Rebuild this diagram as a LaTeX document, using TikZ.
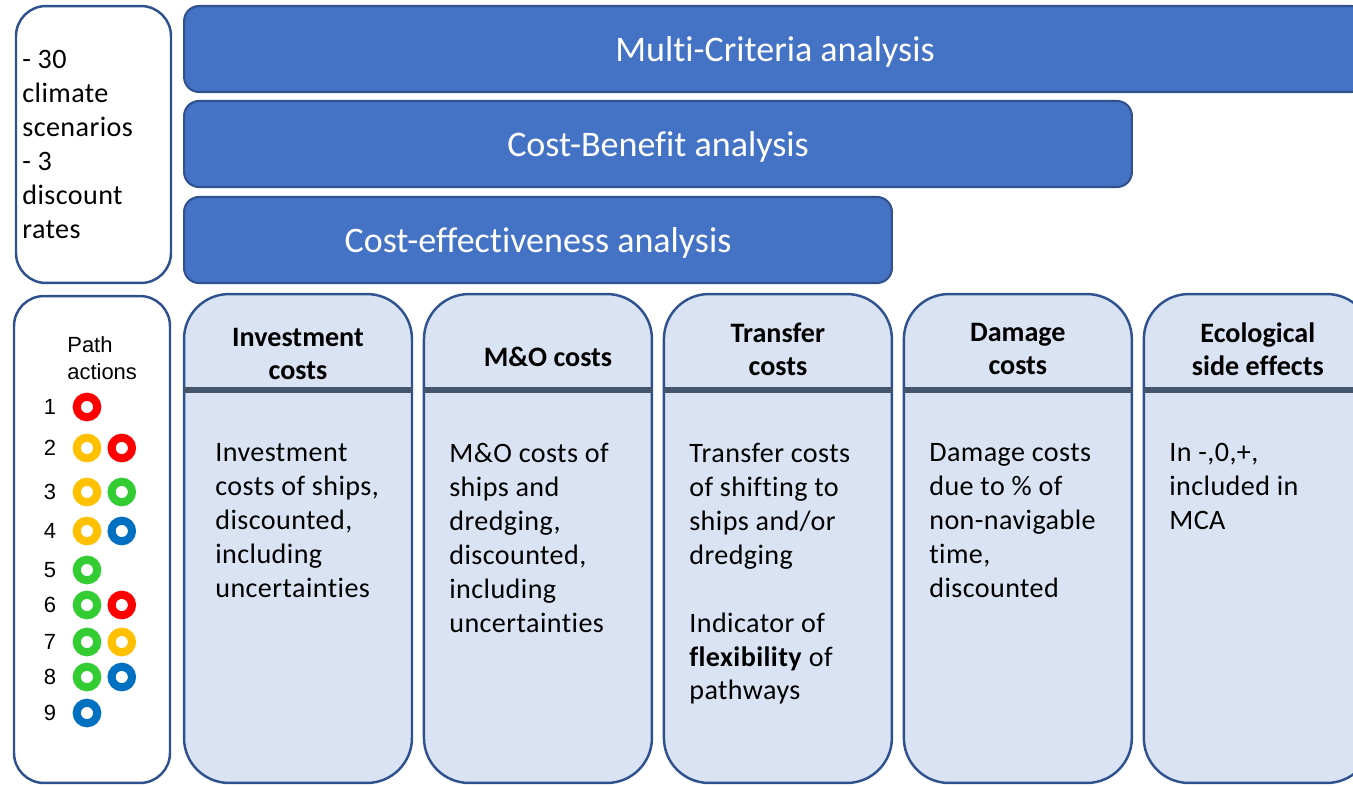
\documentclass[tikz,border=0pt]{standalone}
\usepackage{fontspec}
\setmainfont{Carlito}[Ligatures={NoCommon}]
\newfontfamily\arialfont{Liberation Sans}
\usepackage{tikz}
\usetikzlibrary{positioning}
\definecolor{barfill}{HTML}{4472C4}
\definecolor{edge}{HTML}{2F528F}
\definecolor{colfill}{HTML}{DAE3F3}
\definecolor{rulecol}{HTML}{44546A}
\definecolor{ringred}{HTML}{FF0000}
\definecolor{ringorange}{HTML}{FFC000}
\definecolor{ringgreen}{HTML}{33CC33}
\definecolor{ringblue}{HTML}{0070C0}
\tikzset{
  bar/.style={draw=edge, fill=barfill, line width=1.2pt, rounded corners=0.3cm, text=white,
    font=\fontsize{20.5}{24}\selectfont, minimum height=1.72cm, inner sep=0pt, outer sep=0pt,
    text depth=0pt},
  info/.style={draw=edge, fill=white, line width=1.4pt, rounded corners=0.6cm, inner sep=0pt, outer sep=0pt},
  col/.style={draw=edge, fill=colfill, line width=1.4pt, rounded corners=0.9cm,
    minimum width=4.56cm, minimum height=9.78cm, inner sep=0pt, outer sep=0pt},
  head/.style={font=\fontsize{16}{18.8}\selectfont\bfseries, align=center, inner sep=0pt},
  body/.style={font=\fontsize{16}{19.3}\selectfont\addfontfeature{LetterSpace=1.5},
    align=left, anchor=north west, inner sep=0pt},
  sep/.style={draw=rulecol, line width=3pt},
  small/.style={font=\arialfont\fontsize{12.5}{15.5}\selectfont, inner sep=0pt},
  ring/.style={circle, draw=#1, line width=4.6pt, minimum size=0.41cm, inner sep=0pt},
}
\begin{document}
\begin{tikzpicture}[x=0.02cm, y=-0.02cm]
  \path[use as bounding box, clip] (0,0) rectangle (1353,785);
  \node[info, minimum width=3.1cm, minimum height=5.54cm] (opts) at (93.5,144.5) {};
  \node[body, anchor=west] (optstext) at ([xshift=0.12cm]opts.west)
    {- 30\\climate\\scenarios\\- 3\\discount\\rates};
  \node[info, minimum width=3.12cm, minimum height=9.74cm] (paths) at (92,539.5) {};
  \node[bar, minimum width=23.64cm] (mca) at (775,49) {Multi-Criteria analysis};
  \node[bar, minimum width=18.96cm] (cba) at (658,144) {Cost-Benefit analysis};
  \node[bar, minimum width=14.16cm] (cea) at (538,240) {Cost-effectiveness analysis};
  \node[col] (inv) at (298,538.5) {};
  \node[col, right=0.24cm of inv] (mo) {};
  \node[col, right=0.24cm of mo] (trans) {};
  \node[col, right=0.24cm of trans] (dam) {};
  \node[col, right=0.24cm of dam] (eco) {};
  \coordinate (sepy) at (0,390);
  \foreach \c in {inv,mo,trans,dam,eco}
    \draw[sep] (\c.west |- sepy) -- (\c.east |- sepy);
  \node[head] (invh) at ([yshift=-1.19cm]inv.north) {Investment\\costs};
  \node[head] (moh) at ([xshift=0.2cm, yshift=-1.26cm]mo.north) {M\&O costs};
  \node[head] (transh) at ([yshift=-1.1cm]trans.north) {Transfer\\costs};
  \node[head] (damh) at ([yshift=-1.1cm]dam.north) {Damage\\costs};
  \node[head] (ecoh) at ([yshift=-1.1cm]eco.north) {Ecological\\side effects};
  \node[body] (invt) at (215,443)
    {Investment\\costs of ships,\\discounted,\\including\\uncertainties};
  \node[body] (mot) at (449,443)
    {M\&O costs of\\ships and\\dredging,\\discounted,\\including\\uncertainties};
  \node[body] (transt) at (689,443)
    {Transfer costs\\of shifting to\\ships and/or\\dredging\\[19.3pt]Indicator of\\\textbf{flexibility} of\\pathways};
  \node[body] (damt) at (929,443)
    {Damage costs\\due to \% of\\non-navigable\\time,\\discounted};
  \node[body] (ecot) at (1169,443) {In -,0,+,\\included in\\MCA};
  \node[small, align=left, anchor=west] (ptitle) at (67,358) {Path\\actions};
  \foreach \n/\yy/\a in {1/407/ringred,2/448/ringorange,3/492/ringorange,4/531/ringorange,
      5/570/ringgreen,6/605/ringgreen,7/642/ringgreen,8/677/ringgreen,9/713/ringblue} {
    \node[small] (num\n) at (50,\yy) {\n};
    \node[ring=\a] (ra\n) at (87,\yy) {};
  }
  \foreach \n/\b in {2/ringred,3/ringgreen,4/ringblue,6/ringred,7/ringorange,8/ringblue}
    \node[ring=\b, right=0.124cm of ra\n] (rb\n) {};
\end{tikzpicture}
\end{document}
